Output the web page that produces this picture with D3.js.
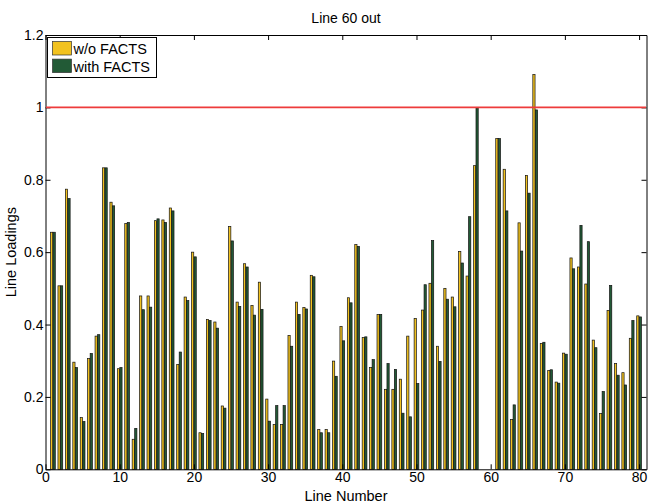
<!DOCTYPE html>
<html>
<head>
<meta charset="utf-8">
<script src="https://cdn.jsdelivr.net/npm/d3@7"></script>
<style>
  body { margin: 0; background: #fff; }
  text { font-family: "Liberation Sans", Arial, sans-serif; }
</style>
</head>
<body>
<script>
'use strict';

// line loadings, lines 1..80 (59 and 60 are out)
const lineNumbers = d3.range(1, 81);

const withoutFacts = [
    0.655, 0.507, 0.774, 0.296, 0.143, 0.306, 0.368, 0.833, 0.738, 0.278,
    0.679, 0.083, 0.479, 0.479, 0.687, 0.689, 0.722, 0.290, 0.476, 0.600,
    0.101, 0.414, 0.407, 0.175, 0.671, 0.462, 0.568, 0.453, 0.517, 0.194,
    0.124, 0.124, 0.370, 0.462, 0.447, 0.536, 0.110, 0.110, 0.299, 0.395,
    0.474, 0.621, 0.364, 0.281, 0.428, 0.221, 0.221, 0.249, 0.368, 0.417,
    0.440, 0.514, 0.340, 0.500, 0.476, 0.602, 0.534, 0.839, 0, 0,
    0.914, 0.829, 0.138, 0.681, 0.812, 1.091, 0.348, 0.273, 0.241, 0.321,
    0.584, 0.559, 0.512, 0.357, 0.154, 0.439, 0.292, 0.267, 0.362, 0.424
];

const withFacts = [
    0.655, 0.507, 0.748, 0.281, 0.132, 0.320, 0.372, 0.833, 0.728, 0.281,
    0.682, 0.113, 0.441, 0.448, 0.692, 0.682, 0.714, 0.324, 0.466, 0.587,
    0.099, 0.411, 0.390, 0.169, 0.631, 0.450, 0.559, 0.426, 0.442, 0.133,
    0.176, 0.176, 0.340, 0.428, 0.443, 0.532, 0.101, 0.101, 0.257, 0.355,
    0.460, 0.616, 0.366, 0.303, 0.428, 0.292, 0.276, 0.155, 0.145, 0.237,
    0.510, 0.632, 0.298, 0.470, 0.449, 0.570, 0.698, 1.000, 0, 0,
    0.914, 0.714, 0.178, 0.603, 0.763, 0.993, 0.351, 0.275, 0.238, 0.318,
    0.554, 0.674, 0.629, 0.336, 0.215, 0.508, 0.260, 0.233, 0.411, 0.421
];

const seriesNames = ["w/o FACTS", "with FACTS"];
const xTicks = [0, 10, 20, 30, 40, 50, 60, 70, 80];
const yTicks = [0, 0.2, 0.4, 0.6, 0.8, 1, 1.2];
const limitLine = 1;

function createBarChart(width, height) {
    let margin = {top: 35, right: 2.5, bottom: 34.7, left: 45.5};
    let colors = ["#f2c21f", "#225a36"];

    let svg = d3.select("body").append("svg")
        .attr("width", width)
        .attr("height", height);

    let x = d3.scaleLinear()
        .domain([0, 81])
        .range([margin.left, width - margin.right]);
    let y = d3.scaleLinear()
        .domain([0, 1.2])
        .range([height - margin.bottom, margin.top]);

    // one row per line, two bars each
    let rows = lineNumbers.map(function(n, i) {
        return {line: n, values: [withoutFacts[i], withFacts[i]]};
    });

    let barW = 0.3;
    let offsets = [-0.17, 0.17];

    let groups = svg.append("g")
        .selectAll("g")
        .data(rows)
        .enter().append("g");

    groups.selectAll("rect")
        .data(function(d) {
            return d.values.map(function(v, k) { return {line: d.line, value: v, k: k}; });
        })
        .enter().append("rect")
        .filter(function(d) { return d.value > 0; })
        .attr("x", function(d) { return x(d.line + offsets[d.k] - barW / 2); })
        .attr("width", function(d) { return x(barW) - x(0); })
        .attr("y", function(d) { return y(d.value); })
        .attr("height", function(d) { return y(0) - y(d.value); })
        .attr("fill", function(d) { return colors[d.k]; })
        .attr("stroke", "#111")
        .attr("stroke-width", 0.7);

    // axes, ticks pointing inside like matlab
    let tickLen = 5;
    svg.append("g")
        .attr("transform", "translate(0," + y(0) + ")")
        .call(d3.axisBottom(x).tickValues(xTicks).tickSize(-tickLen).tickSizeOuter(0).tickPadding(3).tickFormat(d3.format("d")));
    svg.append("g")
        .attr("transform", "translate(0," + y(1.2) + ")")
        .call(d3.axisTop(x).tickValues(xTicks).tickSize(-tickLen).tickSizeOuter(0).tickFormat(""));
    svg.append("g")
        .attr("transform", "translate(" + x(0) + ",0)")
        .call(d3.axisLeft(y).tickValues(yTicks).tickSize(-tickLen).tickSizeOuter(0).tickPadding(2).tickFormat(function(d) { return d3.format("~g")(d); }));
    svg.append("g")
        .attr("transform", "translate(" + x(81) + ",0)")
        .call(d3.axisRight(y).tickValues(yTicks).tickSize(-tickLen).tickSizeOuter(0).tickFormat(""));

    svg.selectAll(".domain").attr("stroke", "#000").attr("stroke-width", 1);
    svg.selectAll(".tick line").attr("stroke", "#000");
    svg.selectAll(".tick text")
        .style("font-family", "'Liberation Sans', Arial, sans-serif")
        .style("font-size", "14px")
        .attr("fill", "#000");

    // red limit line at 1
    svg.append("line")
        .attr("x1", x(0) + 0.5).attr("x2", x(81) - 0.5)
        .attr("y1", y(limitLine)).attr("y2", y(limitLine))
        .style("stroke", "#ee3b3b")
        .style("stroke-width", "1.6px");

    // title and axis labels
    svg.append("text")
        .attr("x", (x(0) + x(81)) / 2)
        .attr("y", 23)
        .attr("text-anchor", "middle")
        .style("font-size", "14px")
        .text("Line 60 out");

    svg.append("text")
        .attr("x", (x(0) + x(81)) / 2)
        .attr("y", 501)
        .attr("text-anchor", "middle")
        .style("font-size", "14.5px")
        .text("Line Number");

    svg.append("text")
        .attr("transform", "translate(15.5," + ((y(0) + y(1.2)) / 2) + ") rotate(-90)")
        .attr("text-anchor", "middle")
        .style("font-size", "14.5px")
        .text("Line Loadings");

    // legend
    let legend = svg.append("g");
    legend.append("rect")
        .attr("x", 47.5).attr("y", 37.5)
        .attr("width", 109).attr("height", 40)
        .attr("fill", "#fff")
        .attr("stroke", "#000")
        .attr("stroke-width", 1);

    let items = legend.selectAll("g")
        .data(seriesNames)
        .enter().append("g")
        .attr("transform", function(d, i) { return "translate(0," + (i * 17.6) + ")"; });
    items.append("rect")
        .attr("x", 52.5).attr("y", 41.5)
        .attr("width", 19).attr("height", 13.5)
        .attr("fill", function(d, i) { return colors[i]; })
        .attr("stroke", "#333")
        .attr("stroke-width", 0.7);
    items.append("text")
        .attr("x", 73.5).attr("y", 54)
        .style("font-size", "14.5px")
        .text(function(d) { return d; });

    return svg.node();
}

createBarChart(649, 504);
</script>
</body>
</html>
